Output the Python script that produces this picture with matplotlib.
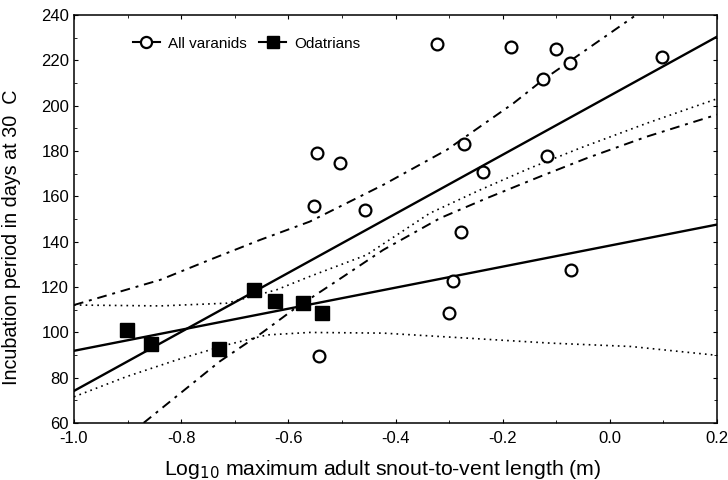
import matplotlib.pyplot as plt
from matplotlib.lines import Line2D
from matplotlib.ticker import MultipleLocator

plt.rcParams['font.family'] = ['Liberation Sans', 'DejaVu Sans']

# Datos
varanid_x = [-0.323, -0.184, -0.100, -0.075, -0.125, 0.098, -0.272, -0.117, -0.237,
             -0.457, -0.277, -0.546, -0.504, -0.552, -0.293, -0.072, -0.301, -0.542]
varanid_y = [227.2, 226.0, 224.9, 218.7, 211.6, 221.6, 183.0, 177.8, 170.6,
             153.7, 144.0, 179.0, 174.6, 155.9, 122.4, 127.5, 108.5, 89.7]

odatrian_x = [-0.901, -0.857, -0.730, -0.665, -0.625, -0.573, -0.538]
odatrian_y = [100.9, 94.7, 92.7, 118.7, 113.8, 112.8, 108.5]

# Rectas de regresión (extremos)
fit_x = [-1.0, 0.2]
varanid_fit = [74.1, 230.4]
odatrian_fit = [91.8, 147.5]

# Bandas de confianza (trazadas a mano desde la figura)
var_up_x = [-1.0, -0.839, -0.746, -0.653, -0.560, -0.423, -0.304, -0.180, -0.125, 0.045]
var_up_y = [112.0, 123.1, 132.0, 140.7, 148.8, 165.0, 180.5, 201.0, 211.3, 239.3]
var_lo_x = [-0.870, -0.728, -0.650, -0.591, -0.497, -0.423, -0.317, -0.230, -0.130, -0.043, 0.069, 0.200]
var_lo_y = [60.0, 87.1, 99.6, 109.9, 124.6, 136.3, 150.3, 159.1, 168.7, 176.8, 186.3, 196.0]

oda_up_x = [-1.0, -0.839, -0.715, -0.622, -0.560, -0.454, -0.336, -0.242, -0.149, -0.056, 0.069, 0.200]
oda_up_y = [112.0, 111.6, 112.8, 118.7, 124.6, 134.1, 152.5, 162.8, 172.4, 181.2, 192.2, 203.0]
oda_lo_x = [-1.0, -0.902, -0.808, -0.715, -0.640, -0.560, -0.423, -0.267, -0.112, 0.039, 0.200]
oda_lo_y = [71.5, 80.4, 87.8, 94.4, 98.8, 99.9, 99.6, 97.4, 95.2, 93.7, 89.8]

fig = plt.figure(figsize=(7.28, 4.8), dpi=100)
ax = fig.add_axes([0.1016, 0.119, 0.8834, 0.850])

dashdot = (0, (5, 3, 1.5, 3))
dotted = (0, (1, 2.5))

ax.plot(var_up_x, var_up_y, color='black', lw=1.4, linestyle=dashdot)
ax.plot(var_lo_x, var_lo_y, color='black', lw=1.4, linestyle=dashdot)
ax.plot(oda_up_x, oda_up_y, color='black', lw=1.2, linestyle=dotted)
ax.plot(oda_lo_x, oda_lo_y, color='black', lw=1.2, linestyle=dotted)

ax.plot(fit_x, varanid_fit, color='black', lw=1.7)
ax.plot(fit_x, odatrian_fit, color='black', lw=1.7)

ax.plot(varanid_x, varanid_y, 'o', ms=8.5, mfc='white', mec='black', mew=1.6)
ax.plot(odatrian_x, odatrian_y, 's', ms=10.5, mfc='black', mec='black')

ax.set_xlim(-1.0, 0.2)
ax.set_ylim(60, 240)
ax.xaxis.set_major_locator(MultipleLocator(0.2))
ax.xaxis.set_minor_locator(MultipleLocator(0.1))
ax.yaxis.set_major_locator(MultipleLocator(20))
ax.yaxis.set_minor_locator(MultipleLocator(10))
ax.xaxis.set_major_formatter(plt.FuncFormatter(lambda v, p: f'{v:.1f}'))
ax.tick_params(which='both', direction='in', top=True, right=True, labelsize=12)
ax.tick_params(which='major', length=3)
ax.tick_params(which='minor', length=2)
ax.tick_params(axis='x', pad=6)
for s in ax.spines.values():
    s.set_linewidth(1.1)

ax.set_xlabel('Log$_{10}$ maximum adult snout-to-vent length (m)', fontsize=15.3, labelpad=8)
ax.xaxis.set_label_coords(0.48, -0.085)
ax.set_ylabel('Incubation period in days at 30  C', fontsize=14.2, labelpad=8)
ax.yaxis.set_label_coords(-0.082, 0.455)

handles = [
    Line2D([], [], color='black', marker='o', mfc='white', mec='black', mew=1.6, ms=8, lw=1.5),
    Line2D([], [], color='black', marker='s', mfc='black', ms=9, lw=1.5),
]
ax.legend(handles, ['All varanids', 'Odatrians'], loc='upper left', bbox_to_anchor=(0.07, 0.98),
          ncol=2, frameon=False, fontsize=11, handlelength=1.8, handletextpad=0.5, columnspacing=0.8)

fig.savefig('out.png', dpi=100)
